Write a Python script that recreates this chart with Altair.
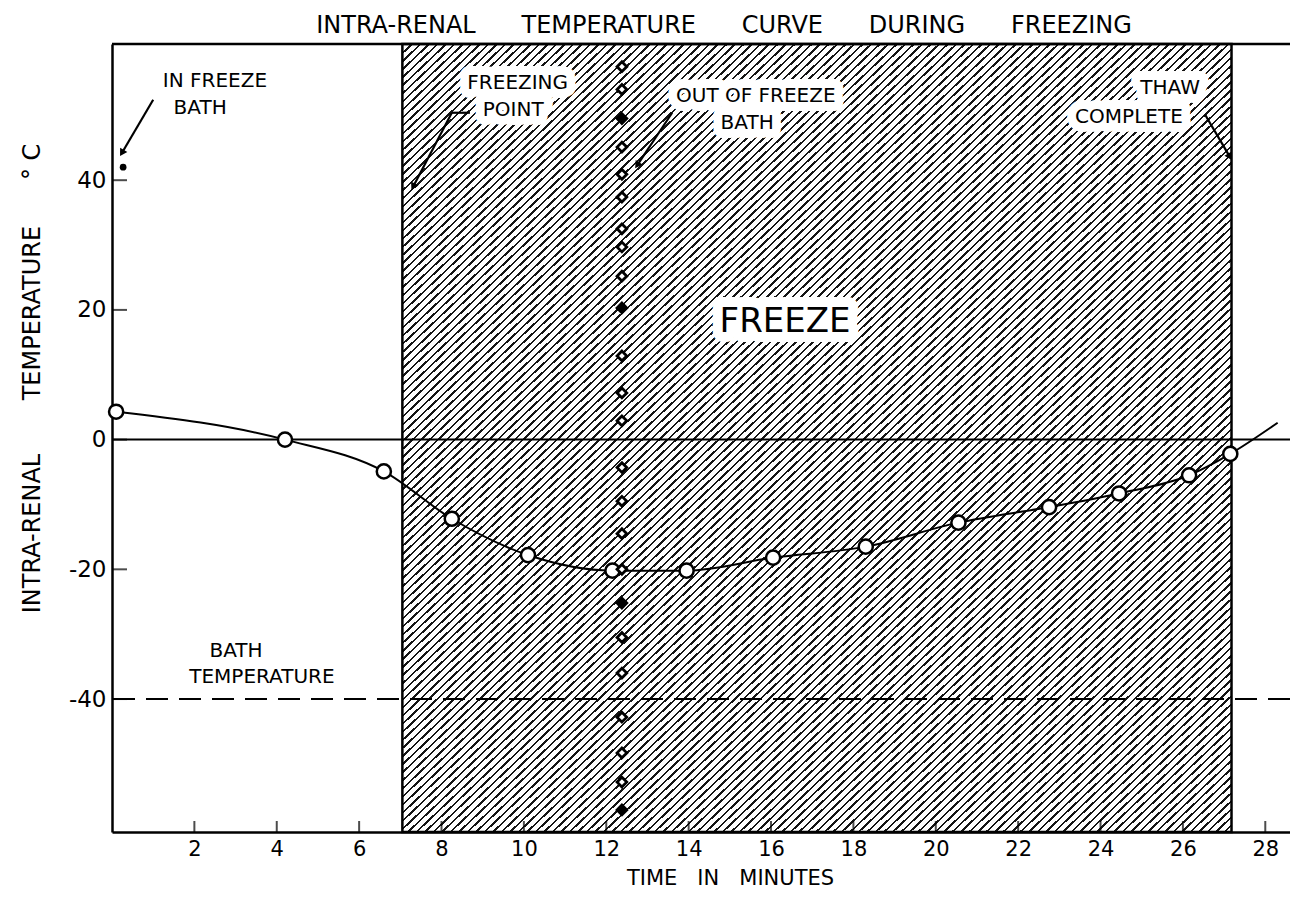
import math
import altair as alt
import pandas as pd

# ---------------- data ----------------
curve_time = [0.1, 4.2, 6.6, 8.25, 10.1, 12.15, 13.95, 16.05, 18.3, 20.55, 22.75, 24.45, 26.15, 27.15]
curve_temp = [4.3, 0.0, -4.9, -12.2, -17.8, -20.2, -20.2, -18.2, -16.5, -12.8, -10.4, -8.3, -5.5, -2.2]
curve_end_time = 28.3          # the drawn curve runs on past the last reading
curve_end_temp = 2.6

probe_time = 12.38             # "out of freeze bath" column of readings
probe_temp = [57.5, 54.0, 49.5, 45.1, 40.9, 37.4, 32.5, 29.7, 25.2, 20.3, 12.9, 7.2, 2.9,
              -4.3, -9.5, -14.5, -20.0, -25.2, -30.5, -36.0, -42.8, -48.3, -52.8, -57.1]
probe_kind = ["open", "open", "solid", "open", "open", "open", "open", "open", "open", "solid",
              "open", "open", "open", "open", "open", "open", "open", "solid", "open", "open",
              "open", "open", "open", "solid"]

start_time = [0.27]            # body temperature when put in the bath
start_temp = [42.0]

freeze_start = 7.05
thaw_end = 27.18
bath_temp = -40.0
zero_temp = 0.0

x_ticks = [2, 4, 6, 8, 10, 12, 14, 16, 18, 20, 22, 24, 26, 28]
y_ticks = [-40, -20, 0, 20, 40]

X_DOMAIN = [0, 28.6]
Y_DOMAIN = [-60.5, 61]

# annotations (text, time, temperature)
plain_text = ["IN FREEZE", "BATH", "BATH", "TEMPERATURE"]
plain_t = [2.5, 2.14, 3.01, 3.64]
plain_v = [55.3, 51.1, -32.6, -36.6]

hatch_text = ["FREEZING", "POINT", "OUT OF FREEZE", "BATH", "THAW", "COMPLETE"]
hatch_t = [9.85, 9.74, 15.63, 15.42, 25.69, 24.69]
hatch_v = [55.0, 50.8, 53.0, 48.8, 54.2, 49.7]

big_text = ["FREEZE"]
big_t = [16.34]
big_v = [18.1]

# arrows / leaders: start (t1, v1) -> tip (t2, v2)
arrow_t1 = [1.0, 8.25, 13.6, 26.54, 8.69]
arrow_v1 = [52.4, 50.4, 50.4, 50.1, 50.4]
arrow_t2 = [0.24, 7.31, 12.75, 27.14, 8.25]
arrow_v2 = [44.2, 39.0, 42.3, 43.6, 50.4]
arrow_head = [True, True, True, True, False]

# ---------------- layout ----------------
W, H = 1178, 788
FONT = "DejaVu Sans"
NB = "\u00a0"

xs = alt.Scale(domain=X_DOMAIN, nice=False, zero=False)
ys = alt.Scale(domain=Y_DOMAIN, nice=False, zero=False)

xa = alt.Axis(values=x_ticks, ticks=False, grid=False, labelFontSize=21, labelPadding=6,
              domainWidth=2.5, domainColor="black", labelColor="black", labelFont=FONT,
              labelExpr="'' + datum.value",
              title="TIME" + NB * 3 + "IN" + NB * 3 + "MINUTES", titleFont=FONT, titleFontSize=21,
              titleFontWeight="normal", titleColor="black", titleX=618, titleY=46,
              titleBaseline="middle", titleAlign="center")
ya = alt.Axis(values=y_ticks, ticks=False, grid=False, labelFontSize=23, labelPadding=6,
              domainWidth=2.5, domainColor="black", labelColor="black", labelFont=FONT,
              labelExpr="'' + datum.value",
              title="INTRA-RENAL" + NB * 7 + "TEMPERATURE" + NB * 6 + "°" + NB + "C",
              titleFont=FONT, titleFontSize=24, titleFontWeight="normal", titleColor="black",
              titleAngle=270, titleX=-80, titleY=334, titleAlign="center", titleBaseline="middle")


def X(field):
    return alt.X(field, type="quantitative", scale=xs, axis=xa)


def Y(field):
    return alt.Y(field, type="quantitative", scale=ys, axis=ya)


# hatch pattern as a striped gradient (style only)
N_STRIPES = 195
INK = 0.3
stops = []
for i in range(N_STRIPES):
    o = i / N_STRIPES
    m = (i + INK) / N_STRIPES
    e = (i + 1) / N_STRIPES
    stops += [alt.GradientStop(offset=o, color="#151515"), alt.GradientStop(offset=m, color="#151515"),
              alt.GradientStop(offset=m, color="white"), alt.GradientStop(offset=e, color="white")]
hatch = alt.LinearGradient(gradient="linear", stops=stops, x1=0, y1=0, x2=1, y2=1)

shade_df = pd.DataFrame({"t": [freeze_start], "t2": [thaw_end], "lo": [Y_DOMAIN[0]], "hi": [Y_DOMAIN[1]]})
shade = alt.Chart(shade_df).mark_rect(fill=hatch, stroke="black", strokeWidth=2.5).encode(
    x=X("t"), x2="t2", y=Y("lo"), y2="hi")

hatch_df = pd.DataFrame({"label": hatch_text, "t": hatch_t, "v": hatch_v})
big_df = pd.DataFrame({"label": big_text, "t": big_t, "v": big_v})
plain_df = pd.DataFrame({"label": plain_text, "t": plain_t, "v": plain_v})

halo = alt.Chart(hatch_df).mark_text(font=FONT, fontSize=20, stroke="white", strokeWidth=18,
                                     strokeJoin="round", fill="white").encode(
    x=X("t"), y=Y("v"), text="label")
halo_big = alt.Chart(big_df).mark_text(font=FONT, fontSize=34, stroke="white", strokeWidth=20,
                                       strokeJoin="round", fill="white").encode(
    x=X("t"), y=Y("v"), text="label")

zero_rule = alt.Chart(pd.DataFrame({"v": [zero_temp]})).mark_rule(color="black", strokeWidth=2).encode(y=Y("v"))
bath_rule = alt.Chart(pd.DataFrame({"v": [bath_temp]})).mark_rule(
    color="black", strokeWidth=2, strokeDash=[22, 11]).encode(y=Y("v"))
top_rule = alt.Chart(pd.DataFrame({"v": [Y_DOMAIN[1]]})).mark_rule(color="black", strokeWidth=2.5).encode(y=Y("v"))

line_df = pd.DataFrame({"t": curve_time + [curve_end_time], "v": curve_temp + [curve_end_temp]})
curve = alt.Chart(line_df).mark_line(color="black", strokeWidth=2, interpolate="monotone").encode(
    x=X("t"), y=Y("v"))

pts_df = pd.DataFrame({"t": curve_time, "v": curve_temp})
pts = alt.Chart(pts_df).mark_point(shape="circle", filled=True, fill="white", stroke="black",
                                   strokeWidth=2.5, size=200, opacity=1).encode(x=X("t"), y=Y("v"))

probe_df = pd.DataFrame({"t": [probe_time] * len(probe_temp), "v": probe_temp, "kind": probe_kind})
probe = alt.Chart(probe_df).mark_point(shape="diamond", filled=True, stroke="black", strokeWidth=2.8,
                                       size=95, opacity=1).encode(
    x=X("t"), y=Y("v"),
    fill=alt.Fill("kind:N", scale=alt.Scale(domain=["solid", "open"], range=["black", "white"]), legend=None))

start_df = pd.DataFrame({"t": start_time, "v": start_temp})
start = alt.Chart(start_df).mark_circle(color="black", size=45, opacity=1).encode(x=X("t"), y=Y("v"))

txt_hatch = alt.Chart(hatch_df).mark_text(font=FONT, fontSize=20, color="black").encode(
    x=X("t"), y=Y("v"), text="label")
txt_big = alt.Chart(big_df).mark_text(font=FONT, fontSize=34, color="black").encode(
    x=X("t"), y=Y("v"), text="label")
txt_plain = alt.Chart(plain_df).mark_text(font=FONT, fontSize=20, color="black").encode(
    x=X("t"), y=Y("v"), text="label")

sx = W / (X_DOMAIN[1] - X_DOMAIN[0])
sy = H / (Y_DOMAIN[1] - Y_DOMAIN[0])
angles = []
for t1, v1, t2, v2 in zip(arrow_t1, arrow_v1, arrow_t2, arrow_v2):
    dx = (t2 - t1) * sx
    dy = -(v2 - v1) * sy
    angles.append(math.degrees(math.atan2(dx, -dy)) % 360)

arrow_df = pd.DataFrame({"t1": arrow_t1, "v1": arrow_v1, "t2": arrow_t2, "v2": arrow_v2,
                         "head": arrow_head, "angle": angles})
shafts = alt.Chart(arrow_df).mark_rule(color="black", strokeWidth=2.2).encode(
    x=X("t1"), y=Y("v1"), x2="t2", y2="v2")
heads = alt.Chart(arrow_df).transform_filter("datum.head").mark_point(
    shape="triangle-up", filled=True, color="black", size=70, opacity=1).encode(
    x=X("t2"), y=Y("v2"), angle=alt.Angle("angle:Q", scale=None))

xt_df = pd.DataFrame({"t": x_ticks, "v": [Y_DOMAIN[0]] * len(x_ticks)})
xticks = alt.Chart(xt_df).mark_tick(orient="vertical", color="black", size=11, thickness=2,
                                    yOffset=-5.5).encode(x=X("t"), y=Y("v"))
yt_df = pd.DataFrame({"t": [X_DOMAIN[0]] * len(y_ticks), "v": y_ticks})
yticks = alt.Chart(yt_df).mark_tick(orient="horizontal", color="black", size=15, thickness=2,
                                    xOffset=7.5).encode(x=X("t"), y=Y("v"))

chart = alt.layer(
    shade, halo, halo_big, zero_rule, bath_rule, curve, pts, probe, start,
    txt_hatch, txt_big, txt_plain, shafts, heads, xticks, yticks, top_rule
).properties(
    width=W, height=H,
    autosize=alt.AutoSizeParams(type="none"),
    padding={"left": 104, "top": 36, "right": 0, "bottom": 59},
    title=alt.TitleParams(
        text="INTRA-RENAL" + NB * 6 + "TEMPERATURE" + NB * 6 + "CURVE" + NB * 6 + "DURING" + NB * 6 + "FREEZING",
        font=FONT, fontSize=24, fontWeight="normal", color="black", offset=5, dx=23, anchor="middle"),
).configure_view(stroke=None).configure(background="white")

chart.save("out.html", embed_options={"renderer": "svg", "actions": False})
